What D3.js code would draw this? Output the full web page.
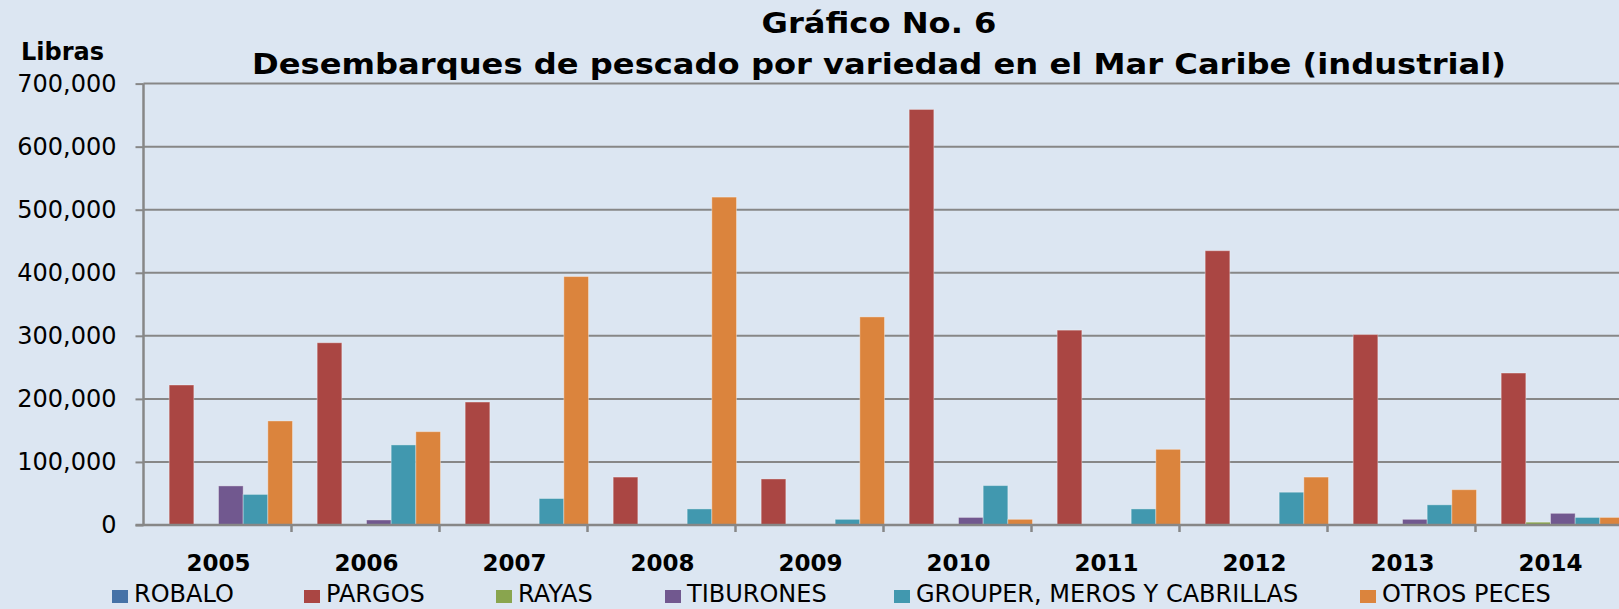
<!DOCTYPE html>
<html>
<head>
<meta charset="utf-8">
<script src="https://cdn.jsdelivr.net/npm/d3@7"></script>
<style>
  html, body { margin: 0; padding: 0; background: #dce6f2; }
  svg { display: block; font-family: "DejaVu Sans", Verdana, sans-serif; }
</style>
</head>
<body>
<svg id="chart" width="1619" height="609"></svg>
<script>
const years = ["2005", "2006", "2007", "2008", "2009", "2010", "2011", "2012", "2013", "2014"];
const seriesNames = ["ROBALO", "PARGOS", "RAYAS", "TIBURONES", "GROUPER, MEROS Y CABRILLAS", "OTROS PECES"];
const robalo = [0, 0, 0, 0, 0, 0, 0, 0, 0, 0];
const pargos = [222000, 289000, 195000, 76000, 73000, 659000, 309000, 435000, 302000, 241000];
const rayas = [0, 0, 0, 0, 0, 0, 0, 0, 0, 4500];
const tiburones = [62000, 8000, 0, 0, 0, 12000, 0, 0, 9000, 18500];
const grouper = [48500, 127000, 42000, 25500, 9000, 62500, 25500, 52000, 32000, 12000];
const otros = [165000, 148000, 394000, 520000, 330000, 9000, 120000, 76000, 56000, 12000];
const yTicks = [0, 100000, 200000, 300000, 400000, 500000, 600000, 700000];

const COLORS = ["#4572a7", "#aa4643", "#89a54e", "#71588f", "#4198af", "#db843d"];
const GRID = "#878787";

const values = [robalo, pargos, rayas, tiburones, grouper, otros];
const rows = [];
years.forEach((yr, i) => {
  values.forEach((arr, s) => rows.push({ year: yr, series: seriesNames[s], value: arr[i], color: COLORS[s] }));
});

const svg = d3.select("#chart");

// plot area runs past the right edge, the reference is cropped there
const plotLeft = 143.5, catW = 148, plotTop = 83.6, plotBottom = 525;

const x = d3.scaleBand().domain(years).range([plotLeft, plotLeft + catW * years.length]).padding(0);
const xs = d3.scaleBand().domain(seriesNames).range([1, catW + 1]).padding(0);
const y = d3.scaleLinear().domain([0, 700000]).range([plotBottom, plotTop]);

// gridlines
svg.append("g")
  .selectAll("line")
  .data(yTicks.slice(1))
  .join("line")
  .attr("x1", plotLeft).attr("x2", 1619)
  .attr("y1", d => y(d)).attr("y2", d => y(d))
  .attr("stroke", GRID).attr("stroke-width", 2);

// bars
svg.append("g")
  .selectAll("rect")
  .data(rows.filter(d => d.value > 0))
  .join("rect")
  .attr("x", d => x(d.year) + xs(d.series))
  .attr("width", xs.bandwidth())
  .attr("y", d => y(d.value))
  .attr("height", d => plotBottom - y(d.value))
  .attr("fill", d => d.color)
  .attr("stroke", "#ffffff").attr("stroke-opacity", 0.35).attr("stroke-width", 1);

// y axis
const yAxis = svg.append("g")
  .attr("transform", `translate(${plotLeft},0)`)
  .call(d3.axisLeft(y).tickValues(yTicks).tickFormat(d3.format(",")).tickSize(8).tickPadding(19));
yAxis.select(".domain").attr("stroke", GRID).attr("stroke-width", 2.5)
  .attr("d", `M0,${plotTop}V${plotBottom}`);
yAxis.selectAll(".tick line").attr("stroke", GRID).attr("stroke-width", 2);
yAxis.selectAll(".tick text")
  .attr("font-size", 24).attr("fill", "#000")
  .attr("font-family", "DejaVu Sans, sans-serif");

// x axis: baseline plus ticks between categories
const xAxis = svg.append("g").attr("transform", `translate(0,${plotBottom})`);
xAxis.append("line")
  .attr("x1", plotLeft - 8).attr("x2", 1619)
  .attr("stroke", GRID).attr("stroke-width", 2.5);
xAxis.selectAll("line.tk")
  .data(years)
  .join("line")
  .attr("class", "tk")
  .attr("x1", d => x(d) + catW).attr("x2", d => x(d) + catW)
  .attr("y1", 0).attr("y2", 7)
  .attr("stroke", GRID).attr("stroke-width", 2.5);
xAxis.selectAll("text")
  .data(years)
  .join("text")
  .attr("x", d => x(d) + x.bandwidth() / 2 + 1)
  .attr("y", 46)
  .attr("text-anchor", "middle")
  .attr("font-size", 23).attr("font-weight", "bold")
  .text(d => d);

// titles
svg.append("text")
  .attr("x", 879).attr("y", 33)
  .attr("text-anchor", "middle")
  .attr("font-size", 28).attr("font-weight", "bold")
  .attr("textLength", 235).attr("lengthAdjust", "spacingAndGlyphs")
  .text("Gráfico No. 6");
svg.append("text")
  .attr("x", 879).attr("y", 74)
  .attr("text-anchor", "middle")
  .attr("font-size", 28.5).attr("font-weight", "bold")
  .attr("textLength", 1254).attr("lengthAdjust", "spacingAndGlyphs")
  .text("Desembarques de pescado por variedad en el Mar Caribe (industrial)");
svg.append("text")
  .attr("x", 21).attr("y", 60)
  .attr("font-size", 24).attr("font-weight", "bold")
  .text("Libras");

// legend, x positions
const legendX = [112, 304, 496, 665, 894, 1360];
const legend = svg.append("g").selectAll("g")
  .data(seriesNames)
  .join("g")
  .attr("transform", (d, i) => `translate(${legendX[i]},0)`);
legend.append("rect")
  .attr("x", 0).attr("y", 590)
  .attr("width", 16).attr("height", 13)
  .attr("fill", (d, i) => COLORS[i]);
legend.append("text")
  .attr("x", 22).attr("y", 602)
  .attr("font-size", 24)
  .text(d => d);
</script>
</body>
</html>
